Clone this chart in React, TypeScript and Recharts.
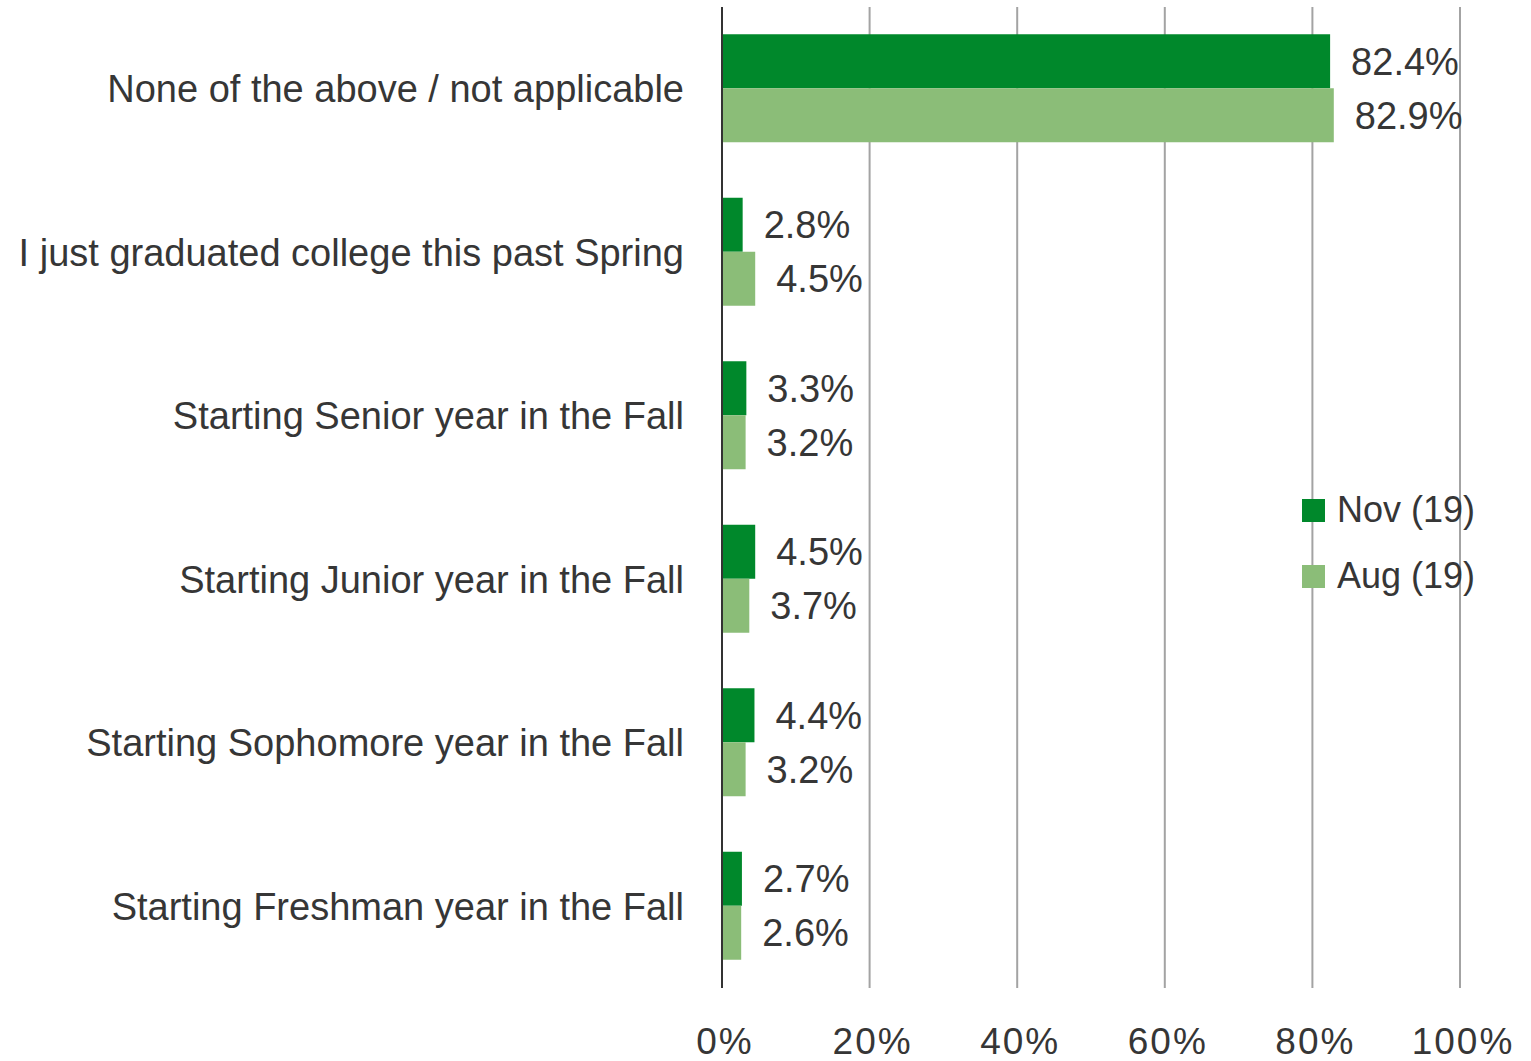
import { Bar, BarChart, CartesianGrid, LabelList, XAxis, YAxis } from "recharts";

const categories = [
    "None of the above / not applicable",
    "I just graduated college this past Spring",
    "Starting Senior year in the Fall",
    "Starting Junior year in the Fall",
    "Starting Sophomore year in the Fall",
    "Starting Freshman year in the Fall",
];
const nov19 = [82.4, 2.8, 3.3, 4.5, 4.4, 2.7];
const aug19 = [82.9, 4.5, 3.2, 3.7, 3.2, 2.6];
const xTicks = [0, 20, 40, 60, 80, 100];

const NOV = "#00882b";
const AUG = "#8bbd78";
const TEXT = "#363636";
const FONT = "'Liberation Sans', Arial, sans-serif";

const data = categories.map((name, i) => ({ name, nov: nov19[i], aug: aug19[i] }));

const legendItems = [
    { label: "Nov (19)", color: NOV },
    { label: "Aug (19)", color: AUG },
];

// legend sits over the plot, so it's drawn outside the chart to keep the plot size
function LegendBox() {
    return (
        <div style={{ position: "absolute", left: 1302, top: 477, fontFamily: FONT, fontSize: 36, color: TEXT }}>
            {legendItems.map((item) => (
                <div key={item.label} style={{ display: "flex", alignItems: "center", height: 66 }}>
                    <span style={{ width: 23, height: 23, background: item.color, marginRight: 12 }} />
                    <span>{item.label}</span>
                </div>
            ))}
        </div>
    );
}

const labelStyle = { fill: TEXT, fontSize: 38, fontFamily: FONT };

export default function App() {
    return (
        <div style={{ position: "absolute", left: 0, top: 0, width: 1531, height: 1061 }}>
            <BarChart
                width={1531}
                height={1061}
                data={data}
                layout="vertical"
                margin={{ top: 7, right: 71, bottom: 0, left: 0 }}
                barCategoryGap="16.7%"
                barGap={0}
            >
                <CartesianGrid horizontal={false} stroke="#a3a3a3" strokeWidth={2} />
                <XAxis
                    type="number"
                    domain={[0, 100]}
                    ticks={xTicks}
                    tickFormatter={(v) => `${v}%`}
                    axisLine={false}
                    tickLine={false}
                    tickSize={0}
                    tickMargin={40}
                    height={73}
                    interval={0}
                    tick={{ fill: TEXT, fontSize: 37, fontFamily: FONT, letterSpacing: 2, dx: 3 }}
                />
                <YAxis
                    type="category"
                    dataKey="name"
                    width={722}
                    axisLine={{ stroke: "#333333", strokeWidth: 2 }}
                    tickLine={false}
                    tickSize={0}
                    tickMargin={38}
                    interval={0}
                    tick={{ fill: TEXT, fontSize: 38, fontFamily: FONT }}
                />
                <Bar dataKey="nov" name="Nov (19)" fill={NOV} isAnimationActive={false}>
                    <LabelList
                        dataKey="nov"
                        position="right"
                        offset={21}
                        formatter={(v: number) => `${v.toFixed(1)}%`}
                        style={labelStyle}
                    />
                </Bar>
                <Bar dataKey="aug" name="Aug (19)" fill={AUG} isAnimationActive={false}>
                    <LabelList
                        dataKey="aug"
                        position="right"
                        offset={21}
                        formatter={(v: number) => `${v.toFixed(1)}%`}
                        style={labelStyle}
                    />
                </Bar>
            </BarChart>
            <LegendBox />
        </div>
    );
}
